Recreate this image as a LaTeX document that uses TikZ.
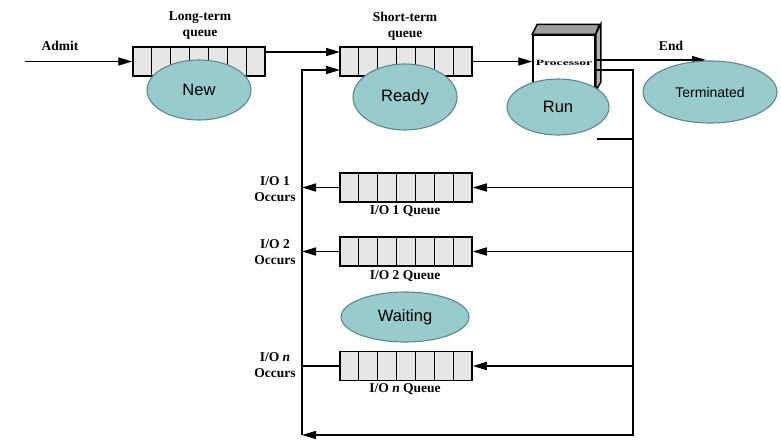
\documentclass[tikz,border=0pt]{standalone}
\usepackage{fontspec}
\setmainfont{Liberation Serif}
\newfontfamily\statefont{Liberation Sans}
\newfontfamily\procfont[FakeStretch=1.7]{Liberation Serif}
\usetikzlibrary{shapes.geometric,arrows.meta,calc}

\definecolor{statefill}{RGB}{152,204,204}
\definecolor{stateline}{RGB}{96,136,136}
\definecolor{queuefill}{RGB}{230,230,230}

% cell walls of a queue node
\newcommand{\queuecells}[1]{%
  \foreach \k in {1,...,6}
    \draw[line width=1pt] ($(#1.north west)!\k/7!(#1.north east)$) -- ($(#1.south west)!\k/7!(#1.south east)$);}

\begin{document}
\begin{tikzpicture}[x=1pt, y=-1pt, line width=1.5pt,
    queue/.style={draw, fill=queuefill, minimum width=132pt, minimum height=29pt, inner sep=0pt},
    procstate/.style={ellipse, draw=stateline, fill=statefill, line width=1.1pt, inner sep=0pt,
      font=\statefont\fontsize{16.5}{18}\selectfont},
    lbl/.style={font=\fontsize{13.5}{16}\selectfont\bfseries, align=center, inner sep=0pt},
    arr/.style={-{Triangle[length=14pt, width=8pt]}}]

            \useasboundingbox (0,0) rectangle (781,445);

            % Queues
            \node[queue] (lq) at (199,61.5) {};
            \node[queue] (sq) at (406,61.5) {};
            \node[queue] (io1) at (406,187.5) {};
            \node[queue] (io2) at (406,251.5) {};
            \node[queue] (ion) at (406,366) {};
            \foreach \q in {lq,sq,io1,io2,ion} {\queuecells{\q}}

            % Free ends
            \coordinate (admit) at (25,61.5);
            \coordinate (sqin) at (340,52);
            \coordinate (sqfb) at (340,70);
            \coordinate (fbtop) at (302,70);
            \coordinate (fbbot) at (302,435);
            \coordinate (rtop) at (633,70);
            \coordinate (rbot) at (633,435);
            \coordinate (endpt) at (706,60);
            \coordinate (tout) at (597,139);

            % Processor
            \node[draw, fill=white, minimum width=62pt, minimum height=55pt, inner sep=0pt,
              font=\procfont\fontsize{8}{9}\selectfont\bfseries] (proc) at (564,62.5) {Processor};
            \draw[fill=gray!75] (proc.north west) -- ++(5,-10) -- ++(62,0) -- (proc.north east) -- cycle;
            \draw[fill=gray!60] (proc.north east) -- ++(5,-10) -- ++(0,58) -- (proc.south east) -- cycle;

            % Edges
            \draw[arr] (admit) -- (lq.west);
            \draw[arr] (lq.east |- sqin) -- (sqin);
            \draw[arr] (sq.east) -- (proc.west |- sq.east);
            \draw[arr] (proc.east |- endpt) -- (endpt);
            \draw[arr] (proc.east |- rtop) -- (rtop) -- (rbot) -- (fbbot);
            \draw[arr] (fbbot) -- (fbtop) -- (sqfb);
            \draw (tout) -- (rtop |- tout);
            \foreach \q in {io1,io2} {
              \draw[arr] (rtop |- \q.east) -- (\q.east);
              \draw[arr] (\q.west) -- (fbtop |- \q.west);
            }
            \draw[arr] (rtop |- ion.east) -- (ion.east);
            \draw (ion.west) -- (fbtop |- ion.west);

            % Labels
            \node[lbl] (ltq) at (200,26) {Long-term\\queue};
            \node[lbl] (stq) at (405,26) {Short-term\\queue};
            \node[lbl] (admitlbl) at (60,46) {Admit};
            \node[lbl] (endlbl) at (671,46) {End};
            \node[lbl] (occ1) at (275,189) {I/O 1\\Occurs};
            \node[lbl] (occ2) at (275,252) {I/O 2\\Occurs};
            \node[lbl] (occn) at (275,365) {I/O \textit{n}\\Occurs};
            \node[lbl] (io1lbl) at (405,211) {I/O 1 Queue};
            \node[lbl] (io2lbl) at (405,276) {I/O 2 Queue};
            \node[lbl] (ionlbl) at (405,389) {I/O \textit{n} Queue};

            % States
            \node[procstate, minimum width=104pt, minimum height=60pt] (new) at (199,90) {New};
            \node[procstate, minimum width=104pt, minimum height=66pt] (ready) at (405,97) {Ready};
            \node[procstate, minimum width=102pt, minimum height=56pt] (run) at (558,107) {Run};
            \node[procstate, minimum width=134pt, minimum height=62pt,
              font=\statefont\fontsize{14}{16}\selectfont] (term) at (710,92) {Terminated};
            \node[procstate, minimum width=128pt, minimum height=50pt] (wait) at (405,317) {Waiting};
            \end{tikzpicture}
\end{document}
